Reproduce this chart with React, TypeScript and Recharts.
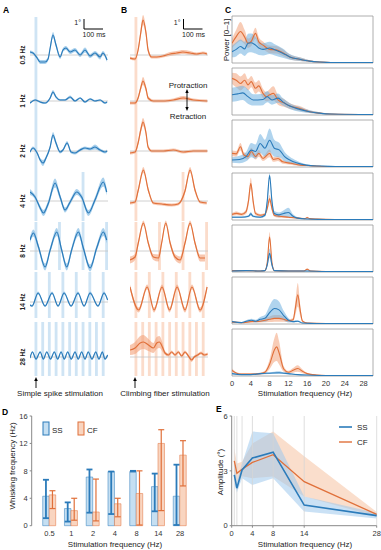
import React from "react";
import {
  ComposedChart,
  BarChart,
  Line,
  Area,
  Bar,
  ErrorBar,
  XAxis,
  YAxis,
  ReferenceLine,
  ReferenceArea,
} from "recharts";

const FONT = '"Liberation Sans", Arial, sans-serif';
const SS_LINE = "#2b7bba";
const SS_BAND = "#6fb0e0";
const CF_LINE = "#e0703a";
const CF_BAND = "#f3a27a";
const SS_STIM = "#cfe4f4";
const CF_STIM = "#fbdccb";

// ---- panels A/B: whisker traces, [time ms, angle deg, sem]
const ss05 = [[-27,0.3,0.15],[-11,0.2,0.15],[11,-0.3,0.15],[27,-0.7,0.2],[53,-0.7,0.2],[69,-0.4,0.2],[80,0.7,0.25],[95,2.0,0.3],[111,1.0,0.25],[133,-0.2,0.2],[148,0.5,0.2],[164,0.7,0.2],[186,0.3,0.2],[212,0.5,0.2],[239,0.0,0.2],[265,0.5,0.25],[292,-0.1,0.2],[318,0.2,0.2],[345,-0.2,0.25],[360,0.2,0.2],[382,-0.5,0.2]];
const ss1 = [[-27,-0.2,0.1],[0,0.1,0.1],[27,-0.1,0.1],[53,-0.2,0.1],[80,0.3,0.15],[95,0.9,0.2],[111,0.4,0.15],[133,0.1,0.1],[159,0.1,0.1],[186,0.4,0.15],[212,0.0,0.1],[239,0.3,0.1],[265,-0.1,0.1],[292,0.2,0.1],[318,0.0,0.1],[345,0.1,0.1],[371,-0.2,0.1],[382,-0.1,0.1]];
const ss2 = [[-27,-0.1,0.15],[-11,0.3,0.15],[11,-0.2,0.15],[27,-0.9,0.2],[42,-1.2,0.3],[58,-0.7,0.2],[80,0.4,0.2],[95,1.6,0.3],[111,0.8,0.25],[133,-0.1,0.15],[148,0.1,0.15],[170,0.8,0.2],[191,-0.1,0.15],[212,-0.2,0.15],[239,0.1,0.15],[265,0.3,0.15],[292,0.2,0.15],[318,0.4,0.25],[345,0.1,0.15],[371,-0.1,0.15],[382,0.0,0.15]];
const ss4 = [[-27,0.9,0.3],[0,0.4,0.2],[27,-0.7,0.25],[44,-1.2,0.3],[71,-0.2,0.3],[106,1.8,0.45],[133,0.4,0.3],[159,-0.9,0.25],[186,-0.1,0.25],[221,0.9,0.3],[247,0.4,0.25],[283,-1.2,0.3],[318,0.1,0.3],[362,1.9,0.45],[380,0.9,0.35]];
const ss8 = [[-27,1.1,0.3],[-9,1.8,0.35],[18,0.4,0.3],[53,-1.6,0.35],[80,0.1,0.3],[115,1.9,0.4],[141,0.1,0.3],[168,-1.6,0.35],[194,0.1,0.3],[230,1.9,0.4],[256,0.3,0.3],[292,-1.7,0.35],[327,0.3,0.3],[362,1.9,0.4],[380,1.1,0.35]];
const ss14 = [[-27,-0.3,0.1],[-16,-0.4,0.1],[16,0.9,0.15],[53,-0.4,0.1],[90,0.9,0.15],[122,-0.4,0.1],[154,0.9,0.15],[191,-0.4,0.1],[228,0.9,0.15],[260,-0.4,0.1],[292,0.9,0.15],[334,-0.4,0.1],[366,0.9,0.15],[385,0.2,0.1]];
const ss28 = [[-27,-0.1,0.1],[-14,0.5,0.1],[5,-0.2,0.1],[27,0.5,0.1],[44,-0.2,0.1],[62,0.5,0.1],[82,-0.2,0.1],[102,0.5,0.1],[120,-0.2,0.1],[138,0.5,0.1],[155,-0.2,0.1],[173,0.5,0.1],[192,-0.2,0.1],[212,0.5,0.1],[229,-0.2,0.1],[247,0.5,0.1],[265,-0.2,0.1],[282,0.5,0.1],[302,-0.2,0.1],[322,0.5,0.1],[339,-0.2,0.1],[357,0.5,0.1],[371,-0.2,0.1],[385,0.2,0.1]];

const cf05 = [[-27,-0.3,0.15],[0,-0.4,0.15],[16,0.5,0.25],[30,2.2,0.4],[42,3.5,0.5],[58,2.2,0.4],[69,0.5,0.25],[88,-0.2,0.15],[115,-0.2,0.15],[148,-0.1,0.15],[186,0.1,0.2],[221,0.2,0.2],[254,0.3,0.2],[292,0.2,0.2],[327,0.1,0.15],[360,0.2,0.15],[382,0.1,0.15]];
const cf1 = [[-27,-0.2,0.15],[0,-0.2,0.15],[16,0.3,0.2],[30,1.3,0.3],[42,2.0,0.4],[58,1.2,0.3],[69,0.3,0.2],[97,0.0,0.15],[150,0.0,0.15],[203,0.1,0.15],[256,0.3,0.2],[309,0.1,0.15],[383,0.0,0.15]];
const cf2 = [[-27,-0.2,0.15],[0,-0.1,0.15],[16,0.8,0.25],[30,2.1,0.35],[42,2.9,0.4],[58,1.8,0.35],[69,0.4,0.2],[88,0.0,0.15],[150,0.0,0.15],[203,0.1,0.15],[256,-0.1,0.15],[309,0.0,0.15],[383,0.0,0.15]];
const cf4 = [[-27,-0.2,0.15],[0,-0.1,0.15],[17,1.1,0.25],[44,3.1,0.3],[70,1.1,0.25],[97,-0.2,0.15],[141,-0.3,0.15],[194,-0.4,0.15],[229,-0.3,0.15],[265,1.0,0.25],[292,3.1,0.3],[318,1.1,0.25],[345,-0.1,0.15],[380,-0.2,0.15]];
const cf8 = [[-27,-0.9,0.35],[0,-0.6,0.3],[17,0.8,0.25],[44,2.8,0.25],[70,0.8,0.25],[97,-0.6,0.3],[124,-0.7,0.35],[141,0.8,0.25],[163,2.8,0.25],[186,0.8,0.25],[212,-0.6,0.3],[239,-0.9,0.35],[265,0.8,0.25],[292,2.8,0.25],[318,0.8,0.25],[345,-0.7,0.35],[371,-0.7,0.35]];
const cf14 = [[-27,1.5,0.25],[19,-0.8,0.25],[64,1.5,0.25],[101,-0.8,0.25],[143,1.5,0.25],[183,-0.8,0.25],[223,1.5,0.25],[265,-0.8,0.25],[302,1.5,0.25],[345,-0.8,0.25],[382,1.5,0.25]];
const cf28 = [[-27,0.7,0.5],[0,0.9,0.6],[27,1.4,0.7],[44,1.5,0.7],[71,1.2,0.6],[97,0.9,0.5],[115,1.4,0.6],[129,1.5,0.6],[145,1.0,0.45],[159,0.4,0.2],[177,0.2,0.15],[194,0.5,0.15],[212,0.2,0.15],[230,0.5,0.15],[247,0.1,0.15],[265,0.5,0.15],[283,0.1,0.15],[300,-0.3,0.2],[314,0.0,0.15],[332,0.2,0.15],[350,0.4,0.15],[367,0.2,0.15],[385,0.3,0.15]];

const rowLabels = ["0.5 Hz", "1 Hz", "2 Hz", "4 Hz", "8 Hz", "14 Hz", "28 Hz"];
const ssTraces = [ss05, ss1, ss2, ss4, ss8, ss14, ss28];
const cfTraces = [cf05, cf1, cf2, cf4, cf8, cf14, cf28];
const stimTimes = [
  [0],
  [0],
  [0],
  [0, 250],
  [0, 125, 250, 375],
  [0, 71, 143, 214, 286, 357],
  [0, 36, 71, 107, 143, 179, 214, 250, 286, 321, 357],
];

// ---- panel C: power spectra, [freq Hz, power, sem]
const c05ss = [[0,0.24,0.12],[0.9,0.29,0.15],[1.8,0.35,0.15],[2.7,0.3,0.15],[3.4,0.42,0.2],[4.1,0.43,0.2],[5.0,0.38,0.18],[5.7,0.32,0.15],[6.6,0.29,0.13],[8.0,0.32,0.13],[9.1,0.28,0.12],[10.8,0.21,0.1],[12.3,0.13,0.06],[14.4,0.08,0.04],[16.5,0.04,0.02],[18.6,0.02,0.01],[21,0.01,0.01],[30,0.01,0]];
const c05cf = [[0,0.42,0.1],[0.9,0.56,0.15],[1.8,0.67,0.2],[2.7,0.55,0.15],[3.4,0.42,0.1],[4.1,0.46,0.1],[5.0,0.63,0.12],[5.7,0.45,0.1],[6.6,0.38,0.08],[8.0,0.29,0.08],[9.4,0.28,0.08],[10.8,0.22,0.07],[12.3,0.13,0.05],[14.4,0.08,0.04],[16.5,0.04,0.02],[18.6,0.02,0.01],[21,0.01,0.01],[30,0.01,0]];
const c1ss = [[0,0.43,0.15],[1.2,0.45,0.15],[2.3,0.47,0.15],[3.4,0.39,0.15],[4.5,0.32,0.12],[5.5,0.32,0.12],[6.6,0.33,0.12],[7.5,0.39,0.12],[8.5,0.32,0.1],[9.8,0.36,0.1],[10.8,0.28,0.08],[12.3,0.19,0.06],[14.4,0.12,0.05],[16.5,0.07,0.03],[18.6,0.04,0.02],[21,0.02,0.01],[30,0.01,0]];
const c1cf = [[0,0.78,0.12],[0.9,0.74,0.15],[1.8,0.67,0.15],[2.7,0.74,0.15],[3.4,0.64,0.12],[4.1,0.71,0.12],[5.0,0.57,0.12],[5.7,0.62,0.12],[6.6,0.46,0.1],[7.3,0.39,0.1],[8.0,0.43,0.12],[8.8,0.46,0.15],[9.8,0.32,0.1],[11.2,0.25,0.08],[12.3,0.19,0.06],[14.4,0.14,0.05],[16.5,0.07,0.03],[18.6,0.04,0.02],[20.7,0.02,0.01],[30,0.01,0]];
const c2ss = [[0,0.15,0.06],[1.6,0.16,0.08],[3.0,0.22,0.1],[4.1,0.36,0.15],[5.0,0.33,0.15],[6.0,0.5,0.2],[7.0,0.4,0.18],[8.0,0.57,0.25],[9.0,0.4,0.18],[10.1,0.36,0.15],[11.2,0.22,0.1],[12.3,0.15,0.07],[13.7,0.09,0.05],[15.8,0.04,0.02],[18.6,0.02,0.01],[22,0.01,0.01],[30,0.01,0]];
const c2cf = [[0,0.29,0.06],[0.9,0.28,0.06],[1.8,0.43,0.08],[2.5,0.26,0.06],[3.4,0.22,0.06],[4.1,0.33,0.08],[5.0,0.22,0.06],[5.7,0.29,0.07],[6.6,0.18,0.05],[8.0,0.29,0.08],[8.8,0.16,0.05],[9.8,0.18,0.05],[10.8,0.11,0.04],[12.5,0.08,0.03],[14.6,0.04,0.02],[16.7,0.03,0.01],[20,0.01,0.01],[30,0.01,0]];
const c4ss = [[0,0.06,0.02],[2,0.06,0.02],[3.5,0.08,0.02],[4,0.13,0.04],[4.5,0.08,0.02],[6,0.06,0.02],[7,0.1,0.03],[7.5,0.4,0.1],[8,0.95,0.05],[8.5,0.4,0.1],[9,0.14,0.05],[10,0.11,0.05],[11,0.14,0.07],[12,0.16,0.1],[13,0.08,0.04],[14,0.04,0.02],[16,0.02,0.01],[20,0.01,0],[30,0.01,0]];
const c4cf = [[0,0.12,0.03],[1,0.14,0.04],[2,0.12,0.03],[3,0.18,0.05],[3.5,0.4,0.1],[4,0.78,0.12],[4.5,0.4,0.1],[5,0.14,0.04],[6,0.1,0.03],[7,0.12,0.03],[7.5,0.25,0.06],[8,0.45,0.08],[8.5,0.25,0.06],[9,0.1,0.03],[10,0.08,0.03],[12,0.06,0.02],[14,0.04,0.02],[15.5,0.03,0.01],[16,0.05,0.02],[16.5,0.03,0.01],[18,0.02,0.01],[22,0.01,0],[30,0.01,0]];
const c8ss = [[0,0.02,0.01],[3,0.03,0.01],[6,0.02,0.01],[7,0.03,0.01],[7.5,0.15,0.05],[8,0.4,0.1],[8.5,0.15,0.05],[9,0.03,0.01],[12,0.02,0.01],[16,0.02,0.01],[20,0.01,0],[30,0.01,0]];
const c8cf = [[0,0.03,0.01],[3,0.03,0.01],[6,0.02,0.01],[7,0.03,0.01],[7.5,0.2,0.05],[8,0.75,0.1],[8.5,0.2,0.05],[9,0.03,0.01],[12,0.02,0.01],[15.3,0.02,0.01],[16,0.06,0.02],[16.7,0.02,0.01],[20,0.01,0],[30,0.01,0]];
const c14ss = [[0,0.05,0.02],[2,0.03,0.01],[3.5,0.07,0.03],[4.2,0.08,0.03],[5,0.06,0.03],[6,0.1,0.05],[7,0.12,0.07],[8,0.24,0.15],[9,0.33,0.2],[10,0.3,0.18],[11,0.18,0.1],[12,0.08,0.05],[13,0.05,0.02],[14,0.06,0.02],[15,0.02,0.01],[18,0.01,0],[30,0.01,0]];
const c14cf = [[0,0.04,0.02],[2,0.03,0.01],[4,0.05,0.02],[6,0.06,0.03],[8,0.1,0.06],[9,0.12,0.07],[10,0.12,0.07],[11,0.1,0.05],[12,0.07,0.03],[13,0.09,0.04],[13.5,0.35,0.15],[14,0.62,0.25],[14.5,0.3,0.12],[15,0.06,0.03],[16,0.02,0.01],[20,0.01,0],[30,0.01,0]];
const c28ss = [[0,0.05,0.02],[2,0.03,0.01],[4,0.03,0.01],[6,0.05,0.02],[8,0.06,0.02],[10,0.07,0.03],[11,0.06,0.02],[12,0.05,0.02],[14,0.03,0.01],[16,0.02,0.01],[20,0.01,0],[30,0.01,0]];
const c28cf = [[0,0.12,0.04],[1,0.06,0.02],[2,0.04,0.02],[4,0.04,0.02],[6,0.05,0.02],[7,0.08,0.03],[8,0.25,0.1],[9,0.55,0.25],[9.5,0.62,0.3],[10,0.5,0.25],[11,0.15,0.06],[12,0.08,0.03],[13,0.12,0.05],[14,0.16,0.07],[15,0.1,0.04],[16,0.05,0.02],[18,0.02,0.01],[20,0.01,0],[30,0.01,0]];
const specSS = [c05ss, c1ss, c2ss, c4ss, c8ss, c14ss, c28ss];
const specCF = [c05cf, c1cf, c2cf, c4cf, c8cf, c14cf, c28cf];
const specTicks = [0, 4, 8, 12, 16, 20, 24, 28];

// ---- panel D: whisking frequency
const dCats = ["0.5", "1", "2", "4", "8", "14", "28"];
const dSS = [4.3, 2.5, 7.1, 7.9, 7.9, 5.7, 4.3];
const dSSLo = [1.1, 0.6, 1.9, 1.7, 7.9, 2.1, 0.1];
const dSSHi = [6.7, 3.4, 8.2, 7.9, 8.0, 7.6, 8.9];
const dCF = [4.5, 2.2, 2.0, 3.2, 4.7, 12.0, 10.3];
const dCFLo = [2.5, 0.8, 0.7, 1.3, 0.1, 2.2, 5.8];
const dCFHi = [5.1, 4.0, 6.8, 4.0, 8.0, 14.0, 12.4];

// ---- panel E: amplitude
const eFreq = [0.5, 1, 2, 4, 8, 14, 28];
const eSS = [2.78, 2.05, 3.05, 3.7, 4.02, 1.13, 0.55];
const eSSLo = [2.3, 1.8, 2.6, 2.23, 2.6, 0.77, 0.4];
const eSSHi = [3.5, 2.4, 3.4, 5.15, 5.06, 1.6, 0.7];
const eCF = [3.55, 2.87, 3.09, 3.46, 3.88, 2.41, 0.62];
const eCFLo = [2.87, 2.4, 2.7, 2.6, 2.69, 1.6, 0.5];
const eCFHi = [4.24, 3.4, 3.5, 4.5, 5.15, 3.8, 0.75];

// layout
const rowBase = [55, 101, 151, 201, 251, 302, 357];
const rowBand = [[17, 73], [73, 123], [123, 172], [172, 221], [222, 270], [272, 318], [322, 376]];
const specTop = [16, 68, 120, 173, 225, 277, 329];
const PX_DEG = 10;
const TH = 90;
const NOM = { top: 0, right: 0, bottom: 0, left: 0 };

function Trace({ rows, stim, left, base, band, line, fill, stimFill }: any) {
  const data = rows.map(([t, m, s]: number[]) => ({ t, m, r: [m - s, m + s] }));
  const half = TH / 2 / PX_DEG;
  return (
    <div style={{ position: "absolute", left, top: base - TH / 2 }}>
      <ComposedChart width={78} height={TH} data={data} margin={NOM}>
        <XAxis type="number" dataKey="t" domain={[-27, 387]} hide allowDataOverflow />
        <YAxis type="number" domain={[-half, half]} hide allowDataOverflow />
        {stim.map((t: number) => (
          <ReferenceArea
            key={t}
            x1={t - 3}
            x2={t + 12}
            y1={(base - band[1]) / PX_DEG}
            y2={(base - band[0]) / PX_DEG}
            fill={stimFill}
            fillOpacity={1}
            stroke="none"
          />
        ))}
        <ReferenceLine y={0} stroke="#c4c4c4" strokeWidth={0.8} />
        <Area dataKey="r" type="monotone" fill={fill} fillOpacity={0.6} stroke="none" isAnimationActive={false} />
        <Line dataKey="m" type="monotone" stroke={line} strokeWidth={1.2} dot={false} isAnimationActive={false} />
      </ComposedChart>
    </div>
  );
}

function Spectrum({ ss, cf, top, last }: any) {
  const toRows = (arr: number[][]) => arr.map(([f, m, s]) => ({ f, m, r: [Math.max(0, m - s), m + s] }));
  const ssRows = toRows(ss);
  const cfRows = toRows(cf);
  return (
    <div style={{ position: "absolute", left: 232, top }}>
      <ComposedChart width={141} height={last ? 61 : 47} margin={NOM}>
        <XAxis
          type="number"
          dataKey="f"
          domain={[0, 30]}
          ticks={specTicks}
          interval={0}
          hide={!last}
          height={14}
          axisLine={false}
          tickLine={false}
          tickSize={2}
          tickMargin={3}
          tick={{ fontSize: 7.5, fill: "#333", fontFamily: FONT }}
          allowDataOverflow
        />
        <YAxis type="number" domain={[0, 1]} hide allowDataOverflow />
        <Area data={cfRows} dataKey="r" type="monotone" fill={CF_BAND} fillOpacity={0.55} stroke="none" isAnimationActive={false} />
        <Area data={ssRows} dataKey="r" type="monotone" fill={SS_BAND} fillOpacity={0.55} stroke="none" isAnimationActive={false} />
        <Line data={cfRows} dataKey="m" type="monotone" stroke={CF_LINE} strokeWidth={1.1} dot={false} isAnimationActive={false} />
        <Line data={ssRows} dataKey="m" type="monotone" stroke={SS_LINE} strokeWidth={1.1} dot={false} isAnimationActive={false} />
        <ReferenceArea x1={0} x2={30} y1={0} y2={1} fill="none" stroke="#9a9a9a" strokeWidth={0.8} />
      </ComposedChart>
    </div>
  );
}

const tickStyle = { fontSize: 7.5, fill: "#333", fontFamily: FONT };

function PanelD() {
  const data = dCats.map((c, i) => ({
    c,
    ss: dSS[i],
    ssErr: [dSS[i] - dSSLo[i], dSSHi[i] - dSS[i]],
    cf: dCF[i],
    cfErr: [dCF[i] - dCFLo[i], dCFHi[i] - dCF[i]],
  }));
  return (
    <div style={{ position: "absolute", left: 0, top: 405 }}>
      <BarChart width={200} height={145} data={data} margin={{ top: 11, right: 9, bottom: 0, left: 0 }} barGap={0} barSize={6.5}>
        <XAxis dataKey="c" height={24.3} axisLine={false} tickLine={false} tickSize={3} tickMargin={2} tick={tickStyle} padding={{ left: 7, right: 0 }} interval={0} />
        <YAxis width={31.7} domain={[0, 16]} ticks={[0, 4, 8, 12, 16]} axisLine={{ stroke: "#888" }} tickLine={{ stroke: "#888" }} tickSize={2} tick={tickStyle} />
        <Bar dataKey="ss" fill="#c5dff2" stroke={SS_LINE} strokeWidth={0.5} isAnimationActive={false}>
          <ErrorBar dataKey="ssErr" width={3} strokeWidth={1.8} stroke={SS_LINE} />
        </Bar>
        <Bar dataKey="cf" fill="#f9d5c0" stroke={CF_LINE} strokeWidth={0.5} isAnimationActive={false}>
          <ErrorBar dataKey="cfErr" width={3} strokeWidth={1.2} stroke={CF_LINE} />
        </Bar>
      </BarChart>
    </div>
  );
}

function PanelE() {
  const data = eFreq.map((f, i) => ({
    f,
    ss: eSS[i],
    ssR: [eSSLo[i], eSSHi[i]],
    cf: eCF[i],
    cfR: [eCFLo[i], eCFHi[i]],
  }));
  return (
    <div style={{ position: "absolute", left: 200, top: 405 }}>
      <ComposedChart width={181} height={145} data={data} margin={{ top: 11, right: 4.3, bottom: 0, left: 0 }}>
        <XAxis type="number" dataKey="f" domain={[0, 28]} ticks={[0, 4, 8, 14, 28]} interval={0} height={24.3} axisLine={{ stroke: "#888" }} tickLine={{ stroke: "#888" }} tickSize={2} tickMargin={3} tick={tickStyle} />
        <YAxis type="number" width={31.7} domain={[0, 6]} ticks={[0, 3, 6]} axisLine={{ stroke: "#888" }} tickLine={{ stroke: "#888" }} tickSize={2} tick={tickStyle} />
        {eFreq.map((f) => (
          <ReferenceLine key={f} x={f} stroke="#d6d6d6" strokeWidth={0.8} />
        ))}
        <Area dataKey="cfR" type="linear" fill="#f5c3a3" fillOpacity={0.55} stroke="none" isAnimationActive={false} />
        <Area dataKey="ssR" type="linear" fill="#9fc9ec" fillOpacity={0.55} stroke="none" isAnimationActive={false} />
        <Line dataKey="cf" type="linear" stroke={CF_LINE} strokeWidth={1.3} dot={false} isAnimationActive={false} />
        <Line dataKey="ss" type="linear" stroke={SS_LINE} strokeWidth={1.6} dot={false} isAnimationActive={false} />
      </ComposedChart>
    </div>
  );
}

function UpArrow({ x, y }: { x: number; y: number }) {
  return (
    <g>
      <line x1={x} y1={y + 3} x2={x} y2={y + 11} stroke="#000" strokeWidth={0.9} />
      <polygon points={`${x},${y} ${x - 1.8},${y + 4} ${x + 1.8},${y + 4}`} fill="#000" />
    </g>
  );
}

function Overlay() {
  const letter = { fontSize: 8.5, fontWeight: 700, fontFamily: FONT, fill: "#000" } as const;
  const small = { fontSize: 7, fontFamily: FONT, fill: "#222" } as const;
  const label = { fontSize: 8, fontFamily: FONT, fill: "#222" } as const;
  return (
    <svg width={381} height={550} style={{ position: "absolute", left: 0, top: 0, pointerEvents: "none" }}>
      <text x={3} y={13} {...letter}>A</text>
      <text x={121} y={13} {...letter}>B</text>
      <text x={225} y={13} {...letter}>C</text>
      <text x={2} y={415} {...letter}>D</text>
      <text x={216} y={412} {...letter}>E</text>

      {rowLabels.map((l, i) => (
        <text key={l} transform={`translate(25, ${rowBase[i]}) rotate(-90)`} textAnchor="middle" fontSize={6.5} fontWeight={700} fontFamily={FONT} fill="#222">
          {l}
        </text>
      ))}

      {[84, 183.5].map((x) => (
        <g key={x}>
          <text x={x - 3} y={25} textAnchor="end" {...small}>1°</text>
          <line x1={x} y1={19} x2={x} y2={29} stroke="#000" strokeWidth={1} />
          <line x1={x} y1={29} x2={x + 19} y2={29} stroke="#000" strokeWidth={1} />
          <text x={x + 10} y={37} textAnchor="middle" {...small}>100 ms</text>
        </g>
      ))}

      <text x={188} y={88} textAnchor="middle" {...label}>Protraction</text>
      <line x1={187} y1={92} x2={187} y2={108} stroke="#000" strokeWidth={0.9} />
      <polygon points="187,89 185.3,93 188.7,93" fill="#000" />
      <polygon points="187,111 185.3,107 188.7,107" fill="#000" />
      <text x={188} y={119} textAnchor="middle" {...label}>Retraction</text>

      <UpArrow x={36} y={377} />
      <UpArrow x={135} y={377} />
      <text x={60} y={396} textAnchor="middle" {...label}>Simple spike stimulation</text>
      <text x={165} y={396} textAnchor="middle" {...label}>Climbing fiber stimulation</text>

      <text transform="translate(228.5, 40) rotate(-90)" textAnchor="middle" {...label}>Power [0–1]</text>
      <text x={305} y={396} textAnchor="middle" {...label}>Stimulation frequency (Hz)</text>

      <text transform="translate(15, 466) rotate(-90)" textAnchor="middle" {...label}>Whisking frequency (Hz)</text>
      <text x={115} y={547} textAnchor="middle" {...label}>Stimulation frequency (Hz)</text>
      <rect x={43} y={422} width={6} height={13} fill="#c5dff2" stroke={SS_LINE} strokeWidth={1} />
      <text x={52} y={433} {...label}>SS</text>
      <rect x={78} y={422} width={6} height={13} fill="#f9d5c0" stroke={CF_LINE} strokeWidth={1} />
      <text x={87} y={433} {...label}>CF</text>

      <text transform="translate(223, 472) rotate(-90)" textAnchor="middle" {...label}>Amplitude (°)</text>
      <text x={305} y={547} textAnchor="middle" {...label}>Stimulation frequency (Hz)</text>
      <line x1={339} y1={427} x2={352} y2={427} stroke={SS_LINE} strokeWidth={1.6} />
      <text x={357} y={430} {...label}>SS</text>
      <line x1={339} y1={442} x2={352} y2={442} stroke={CF_LINE} strokeWidth={1.4} />
      <text x={357} y={445} {...label}>CF</text>
    </svg>
  );
}

export default function App() {
  return (
    <div style={{ position: "absolute", left: 0, top: 0, width: 381, height: 550, background: "#fff", fontFamily: FONT, overflow: "hidden" }}>
      <style>{"svg.recharts-surface{overflow:visible}"}</style>
      {ssTraces.map((rows, i) => (
        <Trace key={"a" + i} rows={rows} stim={stimTimes[i]} left={30} base={rowBase[i]} band={rowBand[i]} line={SS_LINE} fill={SS_BAND} stimFill={SS_STIM} />
      ))}
      {cfTraces.map((rows, i) => (
        <Trace key={"b" + i} rows={rows} stim={stimTimes[i]} left={130} base={rowBase[i]} band={rowBand[i]} line={CF_LINE} fill={CF_BAND} stimFill={CF_STIM} />
      ))}
      {specSS.map((ss, i) => (
        <Spectrum key={"c" + i} ss={ss} cf={specCF[i]} top={specTop[i]} last={i === specSS.length - 1} />
      ))}
      <PanelD />
      <PanelE />
      <Overlay />
    </div>
  );
}
